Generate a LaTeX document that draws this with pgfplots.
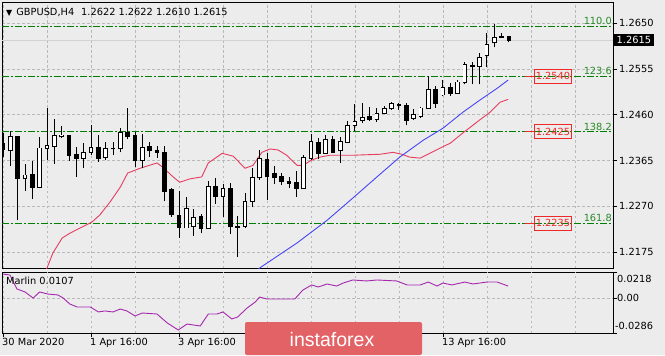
\documentclass[border=0pt]{standalone}
\usepackage{pgfplots}
\pgfplotsset{compat=1.18}
\usepackage{pgfplotstable}
\usepackage{fontspec}
\setmainfont{DejaVu Sans}
\newfontfamily\wmfont{Liberation Sans}
\definecolor{bg}{RGB}{236,236,236}
\definecolor{fibgreen}{RGB}{0,128,0}
\definecolor{fibtext}{RGB}{40,140,40}
\definecolor{maRed}{RGB}{230,60,95}
\definecolor{maBlue}{RGB}{70,70,245}
\definecolor{marlinc}{RGB}{165,40,175}
\definecolor{gridc}{RGB}{185,185,185}
\definecolor{boxred}{RGB}{240,40,40}
\definecolor{wm}{RGB}{226,98,102}
\newcommand\mt{\fontsize{9.8bp}{11bp}\selectfont}

\pgfplotstableread{
i O H L C
0 1.2401 1.2422 1.2372 1.2387
1 1.2385 1.2426 1.2353 1.2414
2 1.2414 1.2416 1.2241 1.2327
3 1.2327 1.2358 1.2302 1.2335
4 1.2337 1.2364 1.2285 1.2310
5 1.2310 1.2414 1.2308 1.2391
6 1.2389 1.2474 1.2366 1.2397
7 1.2395 1.2451 1.2358 1.2416
8 1.2414 1.2436 1.2411 1.2418
9 1.2416 1.2418 1.2364 1.2376
10 1.2378 1.2393 1.2331 1.2370
11 1.2370 1.2401 1.2349 1.2382
12 1.2382 1.2438 1.2376 1.2393
13 1.2393 1.2418 1.2362 1.2370
14 1.2372 1.2403 1.2366 1.2389
15 1.2389 1.2403 1.2376 1.2391
16 1.2389 1.2432 1.2382 1.2424
17 1.2424 1.2474 1.2409 1.2414
18 1.2416 1.2424 1.2351 1.2366
19 1.2366 1.2420 1.2349 1.2393
20 1.2395 1.2403 1.2372 1.2385
21 1.2385 1.2395 1.2370 1.2382
22 1.2382 1.2395 1.2281 1.2300
23 1.2304 1.2308 1.2248 1.2252
24 1.2250 1.2302 1.2204 1.2227
25 1.2225 1.2289 1.2225 1.2266
26 1.2229 1.2264 1.2208 1.2246
27 1.2248 1.2254 1.2214 1.2223
28 1.2223 1.2322 1.2223 1.2312
29 1.2312 1.2329 1.2275 1.2291
30 1.2291 1.2316 1.2248 1.2306
31 1.2306 1.2318 1.2212 1.2229
32 1.2229 1.2250 1.2165 1.2227
33 1.2229 1.2297 1.2225 1.2281
34 1.2281 1.2349 1.2268 1.2329
35 1.2329 1.2387 1.2325 1.2370
36 1.2368 1.2380 1.2283 1.2331
37 1.2339 1.2353 1.2316 1.2329
38 1.2331 1.2339 1.2314 1.2322
39 1.2322 1.2331 1.2308 1.2318
40 1.2320 1.2343 1.2289 1.2306
41 1.2306 1.2376 1.2306 1.2372
42 1.2370 1.2420 1.2366 1.2405
43 1.2403 1.2411 1.2368 1.2380
44 1.2380 1.2418 1.2380 1.2409
45 1.2409 1.2416 1.2380 1.2382
46 1.2385 1.2414 1.2360 1.2405
47 1.2403 1.2447 1.2401 1.2438
48 1.2438 1.2482 1.2426 1.2447
49 1.2449 1.2484 1.2443 1.2455
50 1.2457 1.2476 1.2447 1.2451
51 1.2451 1.2474 1.2445 1.2463
52 1.2463 1.2478 1.2461 1.2472
53 1.2472 1.2486 1.2470 1.2484
54 1.2482 1.2484 1.2470 1.2480
55 1.2480 1.2484 1.2438 1.2449
56 1.2453 1.2472 1.2449 1.2461
57 1.2457 1.2476 1.2453 1.2474
58 1.2472 1.2540 1.2472 1.2513
59 1.2513 1.2519 1.2474 1.2484
60 1.2501 1.2532 1.2499 1.2517
61 1.2517 1.2526 1.2499 1.2505
62 1.2505 1.2532 1.2505 1.2528
63 1.2526 1.2569 1.2523 1.2565
64 1.2563 1.2569 1.2523 1.2561
65 1.2561 1.2588 1.2523 1.2579
66 1.2582 1.2629 1.2559 1.2606
67 1.2609 1.2648 1.2600 1.2621
68 1.2621 1.2629 1.2619 1.2622
69 1.2622 1.2622 1.2610 1.2615
}\candles

\pgfplotstableread{
x y
5 1.2120
6.0 1.2142
6.8 1.2173
8.05 1.2204
9.1 1.2214
10.5 1.2225
12.1 1.2237
13.2 1.2252
14.6 1.2279
16.0 1.2310
17.0 1.2339
18.7 1.2349
21.0 1.2360
21.8 1.2351
23.2 1.2331
24.1 1.2320
25.5 1.2327
27.1 1.2331
28.0 1.2360
29.9 1.2380
31.4 1.2374
33.0 1.2349
34.1 1.2355
35.3 1.2382
36.4 1.2389
37.5 1.2387
38.7 1.2376
40.1 1.2355
40.9 1.2355
42.1 1.2366
43.2 1.2372
44.6 1.2376
47.7 1.2376
51.4 1.2378
53.2 1.2382
54.4 1.2378
55.5 1.2372
56.9 1.2370
58.2 1.2380
59.9 1.2393
61.0 1.2401
62.7 1.2422
65.0 1.2449
66.4 1.2465
67.8 1.2486
68.9 1.2492
}\mared

\pgfplotstableread{
x y
33 1.2110
35.0 1.2142
40.1 1.2194
44.2 1.2241
47.7 1.2287
51.0 1.2331
54.1 1.2372
57.3 1.2407
60.0 1.2432
62.7 1.2465
65.0 1.2490
67.4 1.2515
68.9 1.2532
}\mablue

\pgfplotstableread{
x y
0.0 0.0201
0.95 0.0193
1.9 0.0078
3.0 0.0053
4.1 0.0003
5.0 0.0053
6.1 0.0036
7.5 0.0028
8.2 0.0003
9.1 -0.0046
10.1 -0.0071
11.9 -0.0071
13.0 -0.0112
13.9 -0.0104
15.0 -0.0112
16.0 -0.0088
16.9 -0.0104
18.0 -0.0145
19.0 -0.0121
21.0 -0.0129
22.4 -0.0203
23.9 -0.0261
25.1 -0.0212
26.9 -0.0228
28.0 -0.0129
29.2 -0.0129
30.0 -0.0112
31.2 -0.0170
32.0 -0.0154
33.3 -0.0079
34.4 -0.0030
35.0 0.0011
36.0 -0.0005
37.8 -0.0005
39.8 -0.0005
40.9 0.0069
42.1 0.0111
43.0 0.0094
44.2 0.0119
45.5 0.0102
46.4 0.0127
47.7 0.0152
49.6 0.0144
51.0 0.0152
53.7 0.0144
55.1 0.0111
56.9 0.0111
58.0 0.0135
59.2 0.0102
60.0 0.0127
61.2 0.0111
63.0 0.0135
64.1 0.0119
66.0 0.0135
67.4 0.0135
68.9 0.0102
}\marlin

\begin{document}
\begin{tikzpicture}[x=1bp,y=1bp]
\fill[bg] (0,0) rectangle (665,355);
\path[use as bounding box] (0,0) rectangle (665,355);

\begin{axis}[
  at={(2bp,87bp)}, anchor=south west,
  width=611bp, height=266bp, scale only axis,
  xmin=-0.14, xmax=83.2, ymin=1.2142, ymax=1.2694,
  clip mode=individual,
  axis line style={black, line width=0.8bp},
  xtick={0,6,...,78}, xticklabel=\empty, xtick style={draw=none},
  ytick={1.2175,1.2270,1.2365,1.2460,1.2555,1.2650},
  scaled y ticks=false,
  ytick pos=right, yticklabel pos=right,
  tick align=outside, major tick length=4bp,
  ytick style={black, line width=0.8bp},
  yticklabel style={font=\mt, anchor=west, inner sep=0pt, xshift=2bp,
    /pgf/number format/.cd, fixed, fixed zerofill, precision=4, assume math mode=true},
  grid=major, major grid style={gridc, dash pattern=on 2.5bp off 2.5bp, line width=0.6bp},
]
% bid line
\addplot[gray!35, line width=0.7bp] coordinates {(-0.14,1.2615) (83.2,1.2615)};
% fibonacci levels
\addplot[fibgreen, line width=0.9bp, dash pattern=on 7bp off 2bp on 2bp off 2bp] coordinates {(-0.14,1.2644) (83.2,1.2644)};
\addplot[fibgreen, line width=0.9bp, dash pattern=on 7bp off 2bp on 2bp off 2bp] coordinates {(-0.14,1.2540) (83.2,1.2540)};
\addplot[fibgreen, line width=0.9bp, dash pattern=on 7bp off 2bp on 2bp off 2bp] coordinates {(-0.14,1.2425) (83.2,1.2425)};
\addplot[fibgreen, line width=0.9bp, dash pattern=on 7bp off 2bp on 2bp off 2bp] coordinates {(-0.14,1.2235) (83.2,1.2235)};
% moving averages
\addplot[maRed, line width=0.9bp] table {\mared};
\addplot[maBlue, line width=0.9bp] table {\mablue};
% wicks
\addplot[draw=none, mark=none, error bars/.cd, y dir=plus, y explicit, error mark=none,
  error bar style={draw=black, line width=0.9bp}]
  table[x=i, y=L, y error expr={\thisrow{H}-\thisrow{L}}] {\candles};
% bodies (outline / black)
\addplot[draw=none, mark=none, error bars/.cd, y dir=plus, y explicit, error mark=none,
  error bar style={draw=black, line width=4.6bp}]
  table[x=i, y expr={min(\thisrow{O},\thisrow{C})-0.0001}, y error expr={abs(\thisrow{C}-\thisrow{O})+0.0002}] {\candles};
% bodies (white inside for rising candles)
\addplot[draw=none, mark=none, error bars/.cd, y dir=plus, y explicit, error mark=none,
  error bar style={draw=white, line width=2.9bp}]
  table[x=i, y expr={min(\thisrow{O},\thisrow{C})+0.0001}, y error expr={(\thisrow{C}>\thisrow{O})*max(\thisrow{C}-\thisrow{O}-0.0002,0)}] {\candles};
% fib price boxes
\addplot[boxred, line width=0.9bp] coordinates {(71.2,1.2540) (72.4,1.2540)};
\addplot[boxred, line width=0.9bp] coordinates {(71.2,1.2425) (72.4,1.2425)};
\addplot[boxred, line width=0.9bp] coordinates {(71.2,1.2235) (72.4,1.2235)};
\node[draw=boxred, text=boxred, font=\mt, line width=1bp, inner xsep=1.5bp, minimum height=14bp, anchor=west] at (axis cs:72.4,1.2540) {1.2540};
\node[draw=boxred, text=boxred, font=\mt, line width=1bp, inner xsep=1.5bp, minimum height=14bp, anchor=west] at (axis cs:72.4,1.2425) {1.2425};
\node[draw=boxred, text=boxred, font=\mt, line width=1bp, inner xsep=1.5bp, minimum height=14bp, anchor=west] at (axis cs:72.4,1.2235) {1.2235};
% fib level texts
\node[text=fibtext, font=\mt, anchor=south east, inner sep=1bp] at (axis cs:83.2,1.2644) {110.0};
\node[text=fibtext, font=\mt, anchor=south east, inner sep=1bp] at (axis cs:83.2,1.2540) {123.6};
\node[text=fibtext, font=\mt, anchor=south east, inner sep=1bp] at (axis cs:83.2,1.2425) {138.2};
\node[text=fibtext, font=\mt, anchor=south east, inner sep=1bp] at (axis cs:83.2,1.2235) {161.8};
% current price box
\node[fill=black, text=white, font=\mt, anchor=west, inner xsep=3bp, inner ysep=2.5bp, xshift=0.5bp] at (axis cs:83.2,1.2615) {1.2615};
\end{axis}

\begin{axis}[
  at={(2bp,22bp)}, anchor=south west,
  width=611bp, height=61bp, scale only axis,
  xmin=-0.14, xmax=83.2, ymin=-0.0286, ymax=0.0218,
  clip mode=individual,
  axis line style={black, line width=0.8bp},
  xtick={0,12,24,60},
  xticklabels={30 Mar 2020, 1 Apr 16:00, 3 Apr 16:00, 13 Apr 16:00},
  xtick pos=bottom,
  extra x ticks={6,18,30,36,42,48,54,66,72,78}, extra x tick labels={},
  extra x tick style={major tick length=0pt},
  tick align=outside, major tick length=4bp,
  xtick style={black, line width=0.8bp},
  xticklabel style={font=\mt, anchor=north west, inner sep=0pt, xshift=-1bp, yshift=-1bp},
  ytick={-0.0286,0,0.0218}, yticklabel=\empty,
  scaled y ticks=false,
  ytick pos=right,
  ytick style={black, line width=0.8bp},
  grid=major, major grid style={gridc, dash pattern=on 2.5bp off 2.5bp, line width=0.6bp},
]
\addplot[marlinc, line width=0.9bp] table {\marlin};
\end{axis}

% lower panel texts
\node[anchor=west, font=\mt, inner sep=0pt] at (6,74) {Marlin 0.0107};
\node[anchor=west, font=\mt, inner sep=0pt] at (617,76) {0.0218};
\node[anchor=west, font=\mt, inner sep=0pt] at (617,57) {0.00};
\node[anchor=west, font=\mt, inner sep=0pt] at (615,29) {-0.0286};

% title
\node[anchor=west, inner sep=0pt] at (6,343) {\fontsize{8bp}{9bp}\selectfont ▼\hspace{4bp}\mt GBPUSD,H4\hspace{7bp}1.2622 1.2622 1.2610 1.2615};

% watermark
\fill[wm, rounded corners=2bp] (245,0) rectangle (422,33);
\node[text=white, font=\wmfont\fontsize{19.5bp}{22bp}\selectfont] at (332,15) {instaforex};
\end{tikzpicture}
\end{document}
